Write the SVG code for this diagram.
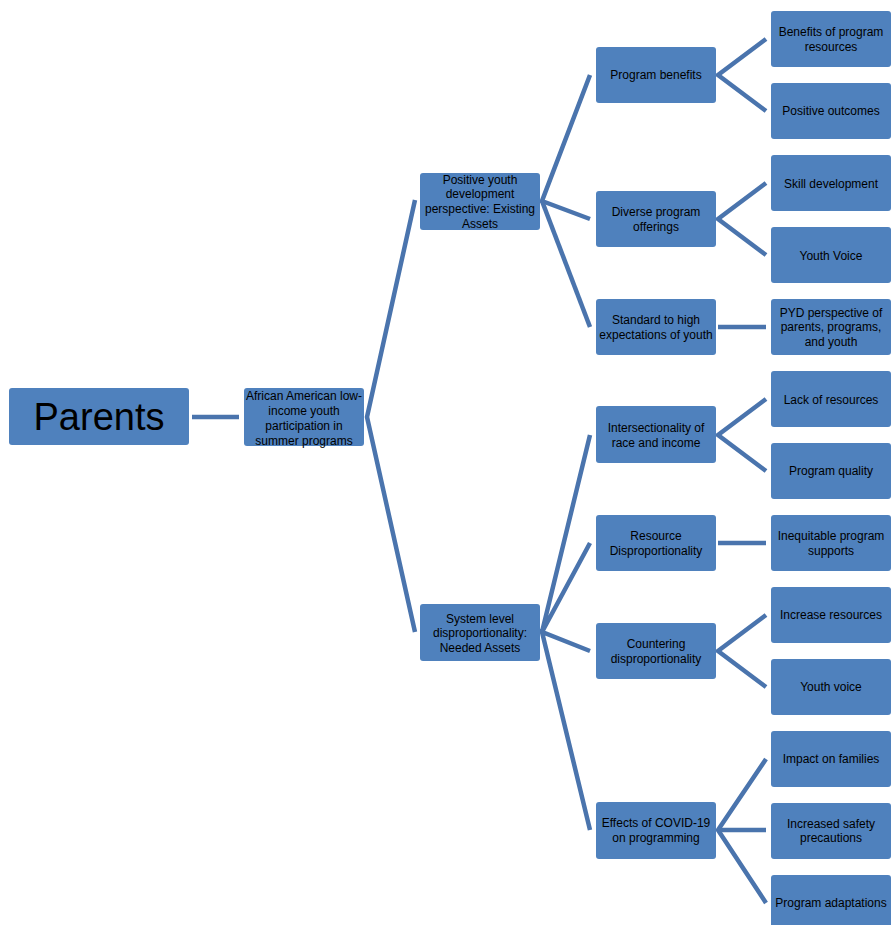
<svg xmlns="http://www.w3.org/2000/svg" width="891" height="925" viewBox="0 0 891 925">
<style>
.n{fill:#4f81bd}
.t{font-family:"Liberation Sans",Arial,sans-serif;font-size:12px;fill:#000;text-anchor:middle}
.c{stroke:#4a74ad;stroke-width:4.5;fill:none;stroke-linejoin:miter}
</style>
<rect width="891" height="925" fill="#fff"/>
<g id="connectors" class="c">
<line x1="192" y1="417" x2="239" y2="417"/>
<polyline points="415,200 367,417 415,632"/>
<polyline points="590,75 542,201 590,219"/>
<line x1="542" y1="201" x2="590" y2="327"/>
<polyline points="590,435 542,632 590,543"/>
<polyline points="590,651 542,632 590,830"/>
<polyline points="766,39 718,75 766,111"/>
<polyline points="766,183 718,219 766,255"/>
<line x1="718" y1="327" x2="766" y2="327"/>
<polyline points="766,399 718,435 766,471"/>
<line x1="718" y1="543" x2="766" y2="543"/>
<polyline points="766,615 718,651 766,687"/>
<polyline points="766,759 718,830 766,903"/>
<line x1="718" y1="830" x2="766" y2="830"/>
</g>
<g id="parents"><rect class="n" x="9" y="388" width="180" height="57" rx="3"/><text x="99" y="430" style="font-family:'Liberation Sans',Arial,sans-serif;font-size:38px;text-anchor:middle">Parents</text></g>
<g id="aa"><rect class="n" x="244" y="388" width="120" height="58" rx="3"/><text class="t"><tspan x="304" y="400">African American low-</tspan><tspan x="304" y="415">income youth</tspan><tspan x="304" y="430">participation in</tspan><tspan x="304" y="445">summer programs</tspan></text></g>
<g id="pyd"><rect class="n" x="420" y="173" width="120" height="57" rx="3"/><text class="t"><tspan x="480" y="184">Positive youth</tspan><tspan x="480" y="198">development</tspan><tspan x="480" y="213">perspective: Existing</tspan><tspan x="480" y="228">Assets</tspan></text></g>
<g id="sys"><rect class="n" x="420" y="604" width="120" height="57" rx="3"/><text class="t"><tspan x="480" y="623">System level</tspan><tspan x="480" y="637">disproportionality:</tspan><tspan x="480" y="652">Needed Assets</tspan></text></g>
<g id="pb"><rect class="n" x="596" y="47" width="120" height="56" rx="3"/><text class="t" x="656" y="79">Program benefits</text></g>
<g id="dpo"><rect class="n" x="596" y="191" width="120" height="56" rx="3"/><text class="t"><tspan x="656" y="216">Diverse program</tspan><tspan x="656" y="231">offerings</tspan></text></g>
<g id="std"><rect class="n" x="596" y="299" width="120" height="56" rx="3"/><text class="t"><tspan x="656" y="324">Standard to high</tspan><tspan x="656" y="339">expectations of youth</tspan></text></g>
<g id="inter"><rect class="n" x="596" y="406" width="120" height="57" rx="3"/><text class="t"><tspan x="656" y="432">Intersectionality of</tspan><tspan x="656" y="447">race and income</tspan></text></g>
<g id="rd"><rect class="n" x="596" y="515" width="120" height="56" rx="3"/><text class="t"><tspan x="656" y="540">Resource</tspan><tspan x="656" y="555">Disproportionality</tspan></text></g>
<g id="cd"><rect class="n" x="596" y="623" width="120" height="56" rx="3"/><text class="t"><tspan x="656" y="648">Countering</tspan><tspan x="656" y="663">disproportionality</tspan></text></g>
<g id="covid"><rect class="n" x="596" y="802" width="120" height="57" rx="3"/><text class="t"><tspan x="656" y="827">Effects of COVID-19</tspan><tspan x="656" y="842">on programming</tspan></text></g>
<g id="bpr"><rect class="n" x="771" y="11" width="120" height="56" rx="3"/><text class="t"><tspan x="831" y="36">Benefits of program</tspan><tspan x="831" y="51">resources</tspan></text></g>
<g id="po"><rect class="n" x="771" y="83" width="120" height="56" rx="3"/><text class="t" x="831" y="115">Positive outcomes</text></g>
<g id="sd"><rect class="n" x="771" y="155" width="120" height="56" rx="3"/><text class="t" x="831" y="188">Skill development</text></g>
<g id="yv1"><rect class="n" x="771" y="227" width="120" height="56" rx="3"/><text class="t" x="831" y="260">Youth Voice</text></g>
<g id="pydp"><rect class="n" x="771" y="299" width="120" height="56" rx="3"/><text class="t"><tspan x="831" y="317">PYD perspective of</tspan><tspan x="831" y="331">parents, programs,</tspan><tspan x="831" y="346">and youth</tspan></text></g>
<g id="lor"><rect class="n" x="771" y="371" width="120" height="56" rx="3"/><text class="t" x="831" y="404">Lack of resources</text></g>
<g id="pq"><rect class="n" x="771" y="443" width="120" height="56" rx="3"/><text class="t" x="831" y="475">Program quality</text></g>
<g id="ips"><rect class="n" x="771" y="515" width="120" height="56" rx="3"/><text class="t"><tspan x="831" y="540">Inequitable program</tspan><tspan x="831" y="555">supports</tspan></text></g>
<g id="ir"><rect class="n" x="771" y="587" width="120" height="56" rx="3"/><text class="t" x="831" y="619">Increase resources</text></g>
<g id="yv2"><rect class="n" x="771" y="659" width="120" height="56" rx="3"/><text class="t" x="831" y="691">Youth voice</text></g>
<g id="iof"><rect class="n" x="771" y="731" width="120" height="56" rx="3"/><text class="t" x="831" y="763">Impact on families</text></g>
<g id="isp"><rect class="n" x="771" y="803" width="120" height="56" rx="3"/><text class="t"><tspan x="831" y="828">Increased safety</tspan><tspan x="831" y="842">precautions</tspan></text></g>
<g id="pa"><rect class="n" x="771" y="875" width="120" height="56" rx="3"/><text class="t" x="831" y="907">Program adaptations</text></g>
</svg>
